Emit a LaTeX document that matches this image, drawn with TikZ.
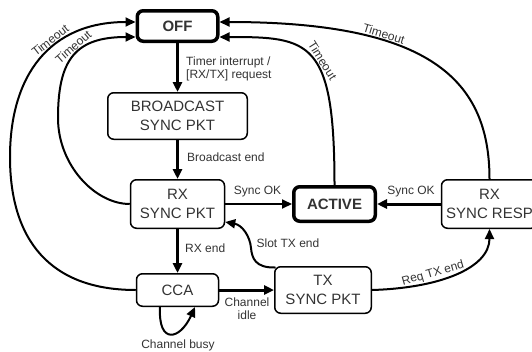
\documentclass[tikz,border=0pt]{standalone}
\usepackage{fontspec}
\setmainfont{Liberation Sans}
\usetikzlibrary{arrows.meta}
\begin{document}
\begin{tikzpicture}[x=1pt,y=-1pt,
  state/.style={draw, rounded corners=6pt, line width=1.5pt, align=center,
    font=\fontsize{15}{18.5}\selectfont, text=black!80, inner sep=0pt},
  keystate/.style={state, line width=3.5pt, font=\fontsize{15}{18}\selectfont\bfseries},
  lbl/.style={font=\fontsize{12}{13}\selectfont, text=black!80, align=center, inner sep=0pt},
  onpath/.style={lbl, sloped, above=1.5pt},
  tip/.style={-{Triangle[length=10pt,width=9pt]}},
  flow/.style={tip, line width=3pt},
  link/.style={tip, line width=2pt},
]
\useasboundingbox (0,0) rectangle (532,351);

% states
\node[keystate, minimum width=80.5pt, minimum height=30.5pt] (off) at (177.5,26) {OFF};
\node[state, minimum width=139.5pt, minimum height=46.5pt] (bcast) at (177.5,116) {BROADCAST\\SYNC PKT};
\node[state, minimum width=94pt, minimum height=48.5pt] (rx) at (177.5,204) {RX\\SYNC PKT};
\node[keystate, minimum width=81.5pt, minimum height=34.5pt] (active) at (334.5,204) {ACTIVE};
\node[state, minimum width=96pt, minimum height=48.5pt] (resp) at (489.5,204) {RX\\SYNC RESP};
\node[state, minimum width=82pt, minimum height=32.5pt] (cca) at (177.5,290) {CCA};
\node[state, minimum width=96.5pt, minimum height=46.5pt] (tx) at (323,290) {TX\\SYNC PKT};

% main flow
\draw[flow] (off) -- (bcast);
\draw[flow] (bcast) -- (rx);
\draw[flow] (rx) -- (cca);
\draw[flow] (cca) -- (tx);
\draw[link] (rx) -- (active);
\draw[flow] (resp) -- (active);

% timeouts back to OFF
\draw[link] (cca.west) .. controls (50,290) and (10,240) .. (10,157)
  .. controls (10,75) and (50,22) .. ([yshift=4pt]off.west)
  node[onpath, pos=0.6] (lto1) {Timeout};
\draw[link] (rx.west) .. controls (95,204) and (58,165) .. (58,118)
  .. controls (58,60) and (75,37) .. ([yshift=-11pt]off.west)
  node[onpath, pos=0.55] (lto2) {Timeout};
\draw[link] (active.north) .. controls (334.5,40) and (310,37) .. ([yshift=-11pt]off.east)
  node[onpath, pos=0.44] (lto3) {Timeout};
\draw[link] (resp.north) .. controls (489.5,80) and (430,22) .. ([yshift=4pt]off.east)
  node[onpath, pos=0.67] (lto4) {Timeout};

% transmissions
\draw[link] ([shift={(1.5pt,-1.5pt)}]tx.north west) .. controls (255,268) and (252,258) .. (251,248)
  .. controls (250,236) and (242,225) .. ([yshift=7pt]rx.south east);
\draw[link] (tx.east) .. controls (440,288) and (489.5,268) .. (resp.south)
  node[onpath, pos=0.35] (lreq) {Req TX end};
\draw[link] ([xshift=-17.5pt]cca.south) .. controls (158,345) and (180,340) .. ([xshift=17.5pt]cca.south);

% labels
\node[lbl, anchor=west, align=left] (ltimer) at (186,69) {Timer interrupt /\\{}[RX/TX] request};
\node[lbl, anchor=west] (lbcast) at (187,157) {Broadcast end};
\node[lbl] (lsync1) at (257.5,192) {Sync OK};
\node[lbl] (lsync2) at (411,192) {Sync OK};
\node[lbl, anchor=west] (lrxend) at (185,248) {RX end};
\node[lbl] (lidle) at (247,309) {Channel\\idle};
\node[lbl] (lbusy) at (178,345) {Channel busy};
\node[lbl] (lslot) at (288,243) {Slot TX end};
\end{tikzpicture}
\end{document}
